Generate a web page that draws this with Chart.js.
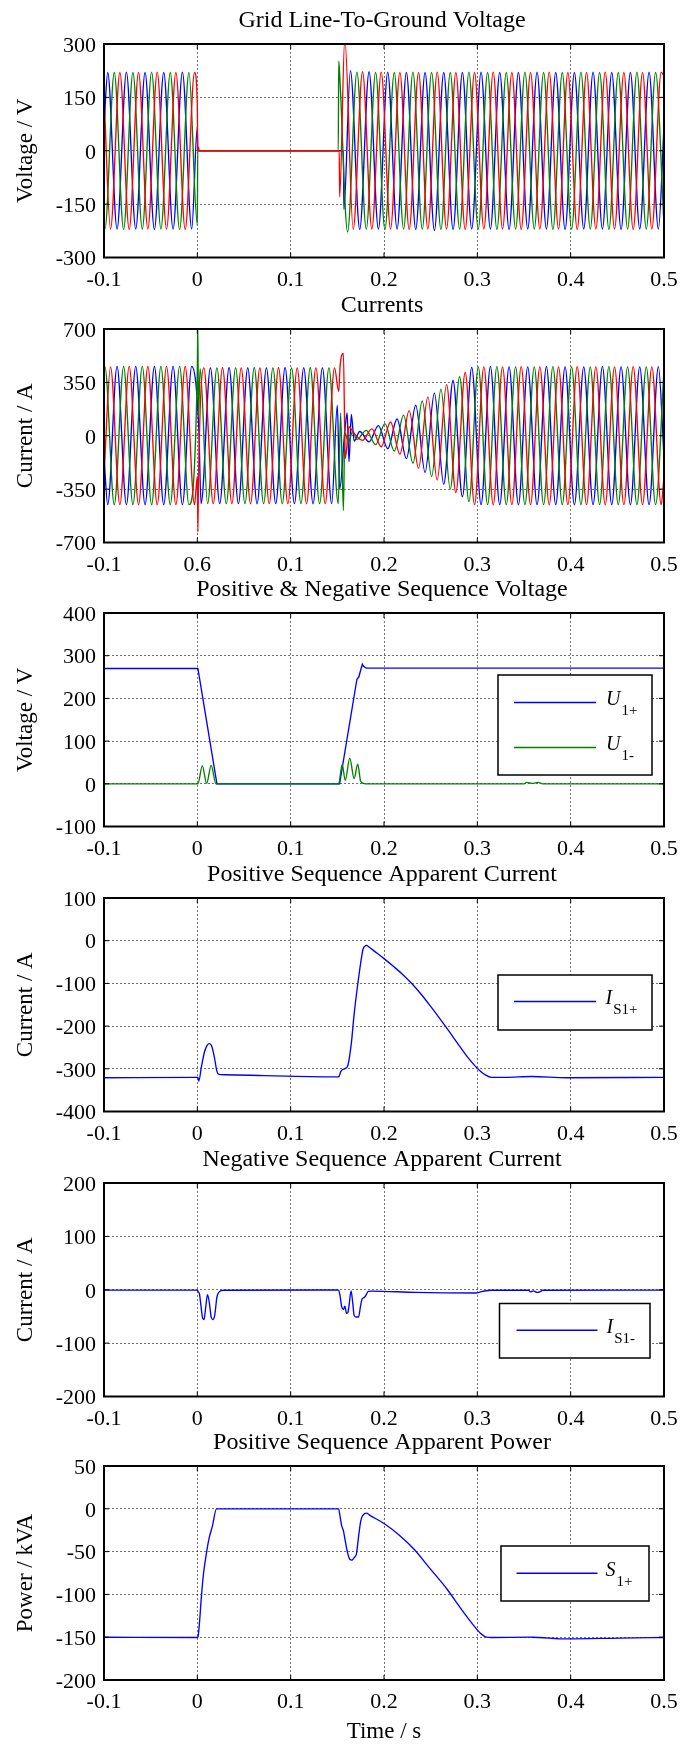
<!DOCTYPE html>
<html>
<head>
<meta charset="utf-8">
<script src="https://cdn.jsdelivr.net/npm/chart.js@4.4.1/dist/chart.umd.min.js"></script>
<style>
  html, body { margin: 0; padding: 0; background: #fff; }
  #fig { position: relative; width: 694px; height: 1746px; overflow: hidden; }
  #fig canvas { position: absolute; left: 0; }
</style>
</head>
<body>
<div id="fig"></div>
<script>
// ---- data: [time s, value] ----

// x tick labels (the Currents panel really says 0.6 where 0 should be)
const xTickLabels = ['-0.1', '0', '0.1', '0.2', '0.3', '0.4', '0.5'];
const xTickLabelsCurrents = ['-0.1', '0.6', '0.1', '0.2', '0.3', '0.4', '0.5'];

// Grid line-to-ground voltage (V), peaks and turning points
const vBlue = [[-0.1, 68], [-0.096, 220], [-0.086, -220], [-0.076, 221], [-0.066, -220], [-0.056, 220], [-0.046, -221],
  [-0.036, 220], [-0.026, -220], [-0.016, 221], [-0.006, -220], [0, 68], [0.0004, 0], [0.1565, 0], [0.157, -165],
  [0.164, 225], [0.174, -221], [0.184, 222], [0.194, -220], [0.204, 221], [0.214, -220], [0.224, 220], [0.234, -221],
  [0.244, 220], [0.254, -224], [0.264, 220], [0.274, -221], [0.284, 220], [0.294, -220], [0.304, 221], [0.314, -220],
  [0.324, 220], [0.334, -221], [0.344, 220], [0.354, -220], [0.364, 221], [0.374, -220], [0.384, 220], [0.394, -221],
  [0.404, 220], [0.414, -220], [0.424, 221], [0.434, -220], [0.444, 220], [0.454, -221], [0.464, 220], [0.474, -220],
  [0.484, 221], [0.494, -220], [0.5, 68]];
const vRed = [[-0.1, 155], [-0.093, -220], [-0.083, 220], [-0.073, -221], [-0.063, 220], [-0.053, -220], [-0.043, 221],
  [-0.033, -220], [-0.023, 220], [-0.013, -221], [-0.003, 220], [0, 129], [0.0004, 0], [0.0012, 10], [0.002, 0],
  [0.152, 0], [0.1525, -130], [0.158, 315], [0.167, -221], [0.177, 222], [0.187, -220], [0.197, 221], [0.207, -220],
  [0.217, 220], [0.227, -221], [0.237, 220], [0.247, -220], [0.257, 221], [0.267, -220], [0.277, 220], [0.287, -221],
  [0.297, 220], [0.307, -220], [0.317, 221], [0.327, -220], [0.337, 220], [0.347, -221], [0.357, 220], [0.367, -220],
  [0.377, 221], [0.387, -220], [0.397, 220], [0.407, -221], [0.417, 220], [0.427, -220], [0.437, 221], [0.447, -220],
  [0.457, 220], [0.467, -221], [0.477, 220], [0.487, -220], [0.497, 221], [0.5, 210]];
const vGreen = [[-0.1, -218], [-0.099, -220], [-0.089, 220], [-0.079, -221], [-0.069, 220], [-0.059, -220], [-0.049, 221],
  [-0.039, -220], [-0.029, 220], [-0.019, -221], [-0.009, 220], [0, -209], [0.0004, 0], [0.151, 0], [0.1515, 252],
  [0.1525, 215], [0.161, -228], [0.171, 221], [0.181, -220], [0.191, 220], [0.201, -221], [0.211, 220], [0.221, -220],
  [0.231, 221], [0.241, -220], [0.251, 220], [0.261, -221], [0.271, 220], [0.281, -220], [0.291, 221], [0.301, -220],
  [0.311, 220], [0.321, -221], [0.331, 220], [0.341, -220], [0.351, 221], [0.361, -220], [0.371, 220], [0.381, -221],
  [0.391, 220], [0.401, -220], [0.411, 221], [0.421, -220], [0.431, 220], [0.441, -221], [0.451, 220], [0.461, -220],
  [0.471, 221], [0.481, -220], [0.491, 220], [0.5, -209]];

// Currents (A)
const iBlue = [[-0.1, -139], [-0.096, -452], [-0.086, 455], [-0.076, -452], [-0.066, 455], [-0.056, -452], [-0.046, 454],
  [-0.036, -452], [-0.026, 455], [-0.016, -452], [-0.006, 455], [0.0015, 60], [0.004, -445], [0.014, 445], [0.024, -445],
  [0.034, 446], [0.044, -445], [0.054, 445], [0.064, -446], [0.074, 445], [0.084, -445], [0.094, 446], [0.104, -445],
  [0.114, 445], [0.124, -446], [0.134, 445], [0.144, -445], [0.150, 200], [0.1525, -350], [0.158, 30], [0.1605, 150],
  [0.1625, -170], [0.165, 140], [0.168, -35], [0.174, 28], [0.184, -40], [0.194, 66], [0.204, -85], [0.214, 110],
  [0.224, -150], [0.234, 200], [0.244, -240], [0.254, 280], [0.264, -318], [0.274, 362], [0.284, -400], [0.294, 448],
  [0.304, -452], [0.314, 453], [0.324, -452], [0.334, 452], [0.344, -453], [0.354, 452], [0.364, -452], [0.374, 453],
  [0.384, -452], [0.394, 452], [0.404, -453], [0.414, 452], [0.424, -452], [0.434, 453], [0.444, -452], [0.454, 452],
  [0.464, -453], [0.474, 452], [0.484, -452], [0.494, 453], [0.5, -139]];
const iGreen = [[-0.1, 440], [-0.099, 452], [-0.089, -452], [-0.079, 454], [-0.069, -452], [-0.059, 455], [-0.049, -452],
  [-0.039, 454], [-0.029, -452], [-0.019, 455], [-0.009, -452], [0, 428], [0.0005, 730], [0.0012, 130], [0.003, 440],
  [0.011, -445], [0.021, 445], [0.031, -446], [0.041, 445], [0.051, -445], [0.061, 446], [0.071, -445], [0.081, 445],
  [0.091, -446], [0.101, 445], [0.111, -445], [0.121, 446], [0.131, -445], [0.141, 445], [0.151, -445], [0.1535, 150],
  [0.1565, -490], [0.158, 20], [0.162, -40], [0.1665, 30], [0.171, -25], [0.181, 35], [0.191, -58], [0.201, 80],
  [0.211, -100], [0.221, 135], [0.231, -180], [0.241, 228], [0.251, -268], [0.261, 305], [0.271, -350], [0.281, 388],
  [0.291, -432], [0.301, 452], [0.311, -452], [0.321, 453], [0.331, -452], [0.341, 452], [0.351, -453], [0.361, 452],
  [0.371, -452], [0.381, 453], [0.391, -452], [0.401, 452], [0.411, -453], [0.421, 452], [0.431, -452], [0.441, 453],
  [0.451, -452], [0.461, 452], [0.471, -453], [0.481, 452], [0.491, -452], [0.5, 428]];
const iRed = [[-0.1, -264], [-0.093, 452], [-0.083, -452], [-0.073, 455], [-0.063, -452], [-0.053, 454], [-0.043, -452],
  [-0.033, 455], [-0.023, -452], [-0.013, 454], [-0.003, -452], [0, -264], [0.0006, -630], [0.0012, -300], [0.007, 445],
  [0.017, -445], [0.027, 446], [0.037, -445], [0.047, 445], [0.057, -446], [0.067, 445], [0.077, -445], [0.087, 446],
  [0.097, -445], [0.107, 445], [0.117, -446], [0.127, 445], [0.137, -445], [0.147, 445], [0.1515, 290], [0.153, 460],
  [0.1565, 540], [0.1585, -150], [0.1625, 60], [0.167, 22], [0.177, -30], [0.187, 45], [0.197, -72], [0.207, 90],
  [0.217, -120], [0.227, 165], [0.237, -212], [0.247, 255], [0.257, -290], [0.267, 335], [0.277, -372], [0.287, 415],
  [0.297, -452], [0.307, 452], [0.317, -453], [0.327, 452], [0.337, -452], [0.347, 453], [0.357, -452], [0.367, 452],
  [0.377, -453], [0.387, 452], [0.397, -452], [0.407, 453], [0.417, -452], [0.427, 452], [0.437, -453], [0.447, 452],
  [0.457, -452], [0.467, 453], [0.477, -452], [0.487, 452], [0.497, -452], [0.5, -264]];

// Positive & negative sequence voltage (V)
const u1Pos = [[-0.1, 270], [0.0006, 270], [0.021, 0], [0.1524, 0], [0.171, 245], [0.173, 250], [0.1755, 270],
  [0.1768, 280], [0.178, 275], [0.181, 271], [0.5, 271]];
const u1Neg = [[-0.1, 0], [0.0006, 0], [0.0053, 42], [0.0100, 1], [0.0148, 43], [0.02, 0], [0.1514, 0], [0.1552, 45],
  [0.1585, 8], [0.1633, 60], [0.168, 12], [0.1718, 46], [0.175, 6], [0.178, 1], [0.18, 0], [0.35, 0], [0.353, 3.5],
  [0.359, 1], [0.365, 3.5], [0.37, 0], [0.5, 0]];

// Positive sequence apparent current (A)
const iS1Pos = [[-0.1, -321], [0, -320], [0.0008, -321], [0.0015, -329], [0.0044, -295], [0.0077, -260], [0.0105, -245],
  [0.0129, -241], [0.0153, -246], [0.0181, -271], [0.021, -306], [0.023, -313], [0.03, -314], [0.073, -316],
  [0.1514, -319], [0.1538, -306], [0.1576, -300], [0.161, -294], [0.165, -240], [0.168, -172], [0.172, -100],
  [0.1755, -45], [0.1775, -20], [0.1795, -13], [0.1815, -11], [0.1835, -14], [0.19, -25], [0.2, -42], [0.21, -60],
  [0.22, -79], [0.23, -101], [0.24, -126], [0.25, -154], [0.26, -183], [0.27, -213], [0.28, -244], [0.29, -274],
  [0.297, -292], [0.303, -305], [0.309, -315], [0.315, -320], [0.33, -320], [0.358, -318], [0.396, -321], [0.5, -320]];

// Negative sequence apparent current (A)
const iS1Neg = [[-0.1, -0.6], [0, -0.6], [0.001, -4], [0.0022, -7], [0.0036, -26], [0.0058, -54], [0.0072, -56],
  [0.009, -32], [0.0109, -9], [0.013, -26], [0.0148, -51], [0.0166, -56], [0.0186, -48], [0.021, -14], [0.0233, -4],
  [0.028, -1], [0.15, -0.5], [0.1514, -1], [0.1528, -10], [0.1547, -32], [0.1566, -37], [0.158, -31], [0.16, -44],
  [0.1614, -42], [0.1628, -26], [0.1647, -2], [0.1666, -26], [0.168, -48], [0.170, -51], [0.1728, -51], [0.1747, -32],
  [0.1766, -17], [0.1785, -15], [0.1804, -11], [0.1832, -3], [0.187, -2.5], [0.234, -5], [0.298, -6], [0.3056, -3],
  [0.315, -1], [0.355, -1], [0.357, -4], [0.36, -2], [0.364, -5], [0.367, -4], [0.37, -1], [0.5, -0.6]];

// Positive sequence apparent power (kVA)
const s1Pos = [[-0.1, -150], [0, -150.4], [0.0006, -150], [0.002, -137], [0.0044, -102], [0.0067, -75], [0.0096, -53],
  [0.0124, -35.5], [0.0162, -20], [0.0205, 0], [0.1514, 0], [0.1528, -8], [0.1547, -20], [0.1566, -26],
  [0.1585, -37.5], [0.1609, -51], [0.1633, -59], [0.1656, -60], [0.168, -57], [0.1704, -53], [0.1728, -32],
  [0.1751, -14], [0.1775, -7.4], [0.1813, -5], [0.1846, -7.4], [0.2012, -18], [0.2155, -30], [0.232, -47],
  [0.2487, -69], [0.2676, -94], [0.282, -116], [0.2937, -133], [0.303, -145], [0.31, -150], [0.315, -150.4],
  [0.358, -150], [0.396, -152], [0.453, -151], [0.5, -150.4]];

// ---- drawing ----
const FONT = '"Liberation Serif", "Times New Roman", serif';
const BLUE = '#0000ff', GREEN = '#008000', RED = '#ff0000';

// MATLAB-like box: frame, inward ticks, title and legend with subscripts
const matlabBox = {
  id: 'matlabBox',
  afterDatasetsDraw(chart, args, opts) {
    const { ctx, chartArea: a, scales: { x, y } } = chart;
    ctx.save();
    ctx.strokeStyle = '#000';
    ctx.lineWidth = 1;
    ctx.beginPath();
    x.ticks.forEach(t => {
      const px = x.getPixelForValue(t.value);
      ctx.moveTo(px, a.bottom); ctx.lineTo(px, a.bottom - 5);
      ctx.moveTo(px, a.top); ctx.lineTo(px, a.top + 5);
    });
    y.ticks.forEach(t => {
      const py = y.getPixelForValue(t.value);
      ctx.moveTo(a.left, py); ctx.lineTo(a.left + 5, py);
      ctx.moveTo(a.right, py); ctx.lineTo(a.right - 5, py);
    });
    ctx.stroke();
    ctx.lineWidth = 2;
    ctx.strokeRect(a.left, a.top, a.right - a.left, a.bottom - a.top);

    ctx.fillStyle = '#000';
    ctx.font = '24px ' + FONT;
    ctx.textAlign = 'center';
    ctx.textBaseline = 'alphabetic';
    ctx.fillText(opts.title, (a.left + a.right) / 2 - 2, a.top - 17.5);

    const lg = opts.legend;
    if (lg) {
      ctx.fillStyle = '#fff';
      ctx.fillRect(lg.x, a.top + lg.y, lg.w, lg.h);
      ctx.lineWidth = 1.5;
      ctx.strokeRect(lg.x, a.top + lg.y, lg.w, lg.h);
      lg.rows.forEach(r => {
        const ry = a.top + r.y;
        ctx.strokeStyle = r.color;
        ctx.lineWidth = 1.4;
        ctx.beginPath();
        ctx.moveTo(lg.lineX[0], ry); ctx.lineTo(lg.lineX[1], ry);
        ctx.stroke();
        ctx.strokeStyle = '#000';
        ctx.fillStyle = '#000';
        ctx.textAlign = 'left';
        ctx.font = 'italic 20px ' + FONT;
        ctx.fillText(r.main, lg.textX, ry + 2.5);
        const w = ctx.measureText(r.main).width;
        ctx.font = '15px ' + FONT;
        ctx.fillText(r.sub, lg.textX + w + 1, ry + 12.5);
      });
    }
    ctx.restore();
  }
};

const panels = [
  { top: 0, h: 300, title: 'Grid Line-To-Ground Voltage', yLabel: 'Voltage / V', y: [-300, 300, 150],
    labels: xTickLabels,
    series: [{ d: vRed, c: RED }, { d: vGreen, c: GREEN }, { d: vBlue, c: BLUE }] },
  { top: 285, h: 300, title: 'Currents', yLabel: 'Current / A', y: [-700, 700, 350],
    labels: xTickLabelsCurrents,
    series: [{ d: iRed, c: RED }, { d: iGreen, c: GREEN }, { d: iBlue, c: BLUE }] },
  { top: 569, h: 300, title: 'Positive & Negative Sequence Voltage', yLabel: 'Voltage / V', y: [-100, 400, 100],
    labels: xTickLabels,
    series: [{ d: u1Neg, c: GREEN }, { d: u1Pos, c: BLUE, straight: true }],
    legend: { x: 498, y: 62, w: 154, h: 100, lineX: [514, 596], textX: 606,
      rows: [{ y: 89.5, color: BLUE, main: 'U', sub: '1+' }, { y: 134.5, color: GREEN, main: 'U', sub: '1-' }] } },
  { top: 854, h: 300, title: 'Positive Sequence Apparent Current', yLabel: 'Current / A', y: [-400, 100, 100],
    labels: xTickLabels,
    series: [{ d: iS1Pos, c: BLUE }],
    legend: { x: 498, y: 77, w: 154, h: 55, lineX: [514, 596], textX: 605.5,
      rows: [{ y: 103.5, color: BLUE, main: 'I', sub: 'S1+' }] } },
  { top: 1139, h: 300, title: 'Negative Sequence Apparent Current', yLabel: 'Current / A', y: [-200, 200, 100],
    labels: xTickLabels,
    series: [{ d: iS1Neg, c: BLUE }],
    legend: { x: 499.5, y: 120.5, w: 150.5, h: 54.5, lineX: [516.5, 597.5], textX: 606.5,
      rows: [{ y: 147.3, color: BLUE, main: 'I', sub: 'S1-' }] } },
  { top: 1422, h: 324, title: 'Positive Sequence Apparent Power', yLabel: 'Power / kVA', y: [-200, 50, 50],
    labels: xTickLabels, xTitle: 'Time / s',
    series: [{ d: s1Pos, c: BLUE }],
    legend: { x: 501, y: 80, w: 148, h: 55, lineX: [516.5, 597.5], textX: 605.5,
      rows: [{ y: 107.3, color: BLUE, main: 'S', sub: '1+' }] } }
];

const fig = document.getElementById('fig');
const PLOT_TOP = 44;

panels.forEach((p, idx) => {
  const canvas = document.createElement('canvas');
  canvas.width = 694;
  canvas.height = p.h;
  canvas.style.top = p.top + 'px';
  fig.appendChild(canvas);
  const last = idx === panels.length - 1;
  const plotBottom = last ? 258 : 257.5;
  const xHeight = p.h - plotBottom;
  const labels = p.labels;

  new Chart(canvas, {
    type: 'line',
    data: {
      datasets: p.series.map(s => ({
        data: s.d.map(([x, y]) => ({ x, y })),
        borderColor: s.c,
        borderWidth: 1.35,
        pointRadius: 0,
        fill: false,
        tension: 0,
        cubicInterpolationMode: s.straight ? 'default' : 'monotone'
      }))
    },
    options: {
      responsive: false,
      animation: false,
      devicePixelRatio: 1,
      events: [],
      layout: { padding: { top: PLOT_TOP, right: 30, bottom: 0, left: 0 } },
      plugins: {
        legend: { display: false },
        tooltip: { enabled: false },
        matlabBox: { title: p.title, legend: p.legend }
      },
      scales: {
        x: {
          type: 'linear',
          min: -0.1,
          max: 0.5,
          afterFit: s => { s.height = xHeight; },
          grid: { color: 'rgba(0,0,0,0.55)', lineWidth: 1, drawTicks: false },
          border: { display: false, dash: [2, 2] },
          ticks: {
            stepSize: 0.1, autoSkip: false, maxRotation: 0, padding: 9.5, color: '#000',
            font: { family: FONT, size: 22 },
            callback: (v, i) => labels[i]
          },
          title: {
            display: !!p.xTitle, text: p.xTitle || '', color: '#000',
            font: { family: FONT, size: 23 }, padding: { top: 0, bottom: 0 }
          }
        },
        y: {
          min: p.y[0],
          max: p.y[1],
          afterFit: s => { s.width = 104; },
          grid: { color: 'rgba(0,0,0,0.55)', lineWidth: 1, drawTicks: false },
          border: { display: false, dash: [2, 2] },
          ticks: {
            stepSize: p.y[2], padding: 8, labelOffset: 2, color: '#000',
            font: { family: FONT, size: 22 }
          },
          title: {
            display: true, text: p.yLabel, color: '#000',
            font: { family: FONT, size: 23 }, padding: { top: 11.7, bottom: 0 }
          }
        }
      }
    },
    plugins: [matlabBox]
  });
});
</script>
</body>
</html>
